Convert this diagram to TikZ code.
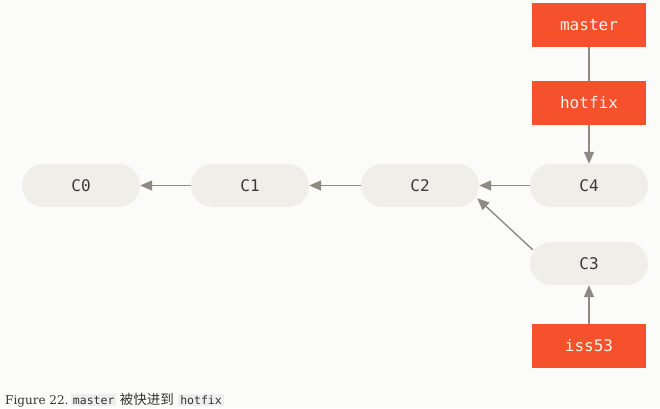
\documentclass[tikz,border=0pt]{standalone}
\usepackage{fontspec}
\setmainfont{Liberation Serif}
\newfontfamily\capserif{DejaVu Serif}
\newfontfamily\monof{DejaVu Sans Mono}
\newfontfamily\cjk{Noto Sans CJK SC}
\usetikzlibrary{arrows.meta,calc}
\definecolor{bgc}{HTML}{FBFBF9}
\definecolor{commitfill}{HTML}{EFEEE9}
\definecolor{committext}{HTML}{3A3A3A}
\definecolor{branchred}{HTML}{F4512C}
\definecolor{branchtext}{HTML}{F6F3EE}
\definecolor{linkgray}{HTML}{8D8983}
\definecolor{codebg}{HTML}{EEEEEE}
\definecolor{captext}{HTML}{333333}
\begin{document}
\begin{tikzpicture}[x=1pt,y=-1pt,
  commit/.style={fill=commitfill, minimum width=118pt, minimum height=43pt, rounded corners=21.5pt, inner sep=0pt, font=\monof\fontsize{16}{19}\selectfont, text=committext},
  branch/.style={fill=branchred, minimum width=114pt, minimum height=44pt, inner sep=0pt, font=\monof\fontsize{16}{19}\selectfont, text=branchtext},
  link/.style={draw=linkgray, line width=1.4pt},
  arr/.style={link, -{Triangle[length=12pt,width=10pt]}},
  code/.style={fill=codebg, inner xsep=2pt, inner ysep=1.5pt, anchor=base west, text=captext, font=\monof\fontsize{11.5}{13}\selectfont},
  captxt/.style={inner sep=0pt, anchor=base west, text=captext}]
\fill[bgc] (0,0) rectangle (660,408);
\useasboundingbox (0,0) rectangle (660,408);
% branches
\node[branch] (master) at (589,25) {master};
\node[branch] (hotfix) at (589,103) {hotfix};
\node[branch] (iss53) at (589,346) {iss53};
% commits
\node[commit] (C0) at (81,185.5) {C0};
\node[commit] (C1) at (250,185.5) {C1};
\node[commit] (C2) at (420,185.5) {C2};
\node[commit] (C4) at (589,185.5) {C4};
\node[commit] (C3) at (589,263.5) {C3};
% connectors
\draw[link] (master) -- (hotfix);
\draw[arr] (hotfix) -- (C4);
\draw[arr] (C4) -- (C2);
\draw[arr] (C2) -- (C1);
\draw[arr] (C1) -- (C0);
\draw[arr] ([shift={(3,8)}]C3.north west) -- ([shift={(-2,-9)}]C2.south east);
\draw[arr] (iss53) -- (C3);
% caption
\node[captxt, font=\capserif\fontsize{12}{14}\selectfont] (fig) at (5,404) {Figure 22.};
\node[code] (cm) at ([xshift=2pt]fig.base east) {master};
\node[captxt, font=\cjk\fontsize{13.5}{15}\selectfont] (cz) at ([xshift=3pt]cm.base east) {被快进到};
\node[code] (ch) at ([xshift=4pt]cz.base east) {hotfix};
\end{tikzpicture}
\end{document}
